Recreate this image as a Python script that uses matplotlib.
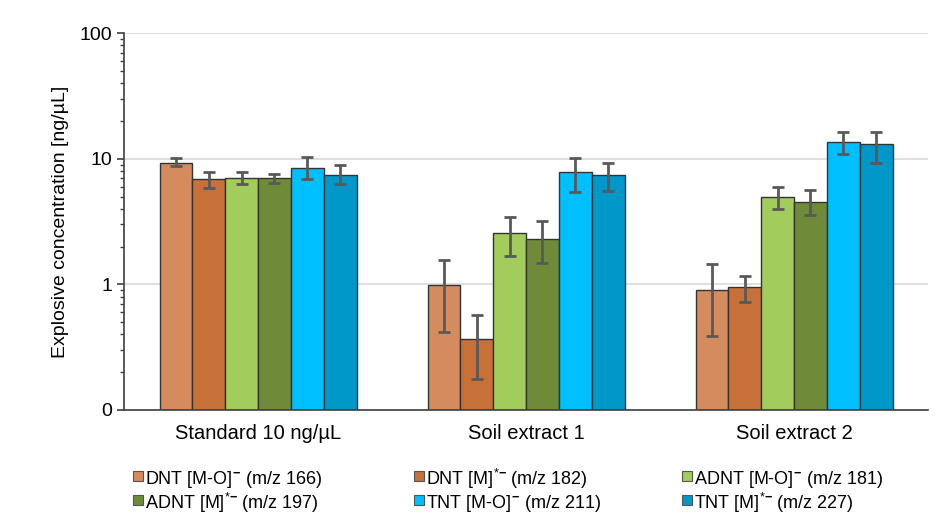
import numpy as np
import matplotlib
matplotlib.use('Agg')
import matplotlib.pyplot as plt
from matplotlib.patches import Rectangle
from matplotlib.ticker import FixedLocator, LogLocator, NullFormatter

plt.rcParams['font.family'] = ['Liberation Sans', 'DejaVu Sans']
plt.rcParams['mathtext.fontset'] = 'custom'
plt.rcParams['mathtext.rm'] = 'Liberation Sans'
plt.rcParams['mathtext.bf'] = 'Liberation Sans:bold'

groups = ['Standard 10 ng/µL', 'Soil extract 1', 'Soil extract 2']
series = ['DNT [M-O]$^{\\mathbf{-}}$ (m/z 166)', 'DNT [M]$^{*\\mathbf{-}}$ (m/z 182)',
          'ADNT [M-O]$^{\\mathbf{-}}$ (m/z 181)', 'ADNT [M]$^{*\\mathbf{-}}$ (m/z 197)',
          'TNT [M-O]$^{\\mathbf{-}}$ (m/z 211)', 'TNT [M]$^{*\\mathbf{-}}$ (m/z 227)']
colors = ['#D48C5E', '#C77038', '#A2CC5B', '#6F8B3A', '#00BFFF', '#0098C8']

# mean values per series, one entry per group
values = [
    [9.3, 0.98, 0.91],
    [6.85, 0.365, 0.95],
    [7.0, 2.55, 4.92],
    [7.0, 2.28, 4.49],
    [8.5, 7.78, 13.7],
    [7.37, 7.37, 13.0],
]
# error bar ends (low, high)
err_low = [
    [8.7, 0.415, 0.39],
    [5.8, 0.176, 0.73],
    [6.35, 1.67, 3.95],
    [6.45, 1.47, 3.54],
    [6.85, 5.4, 11.0],
    [6.25, 5.5, 9.3],
]
err_high = [
    [10.2, 1.55, 1.44],
    [7.9, 0.567, 1.16],
    [7.8, 3.47, 6.0],
    [7.5, 3.17, 5.6],
    [10.4, 10.2, 16.2],
    [8.85, 9.2, 16.2],
]

fig = plt.figure(figsize=(9.47, 5.18), dpi=100)
ax = fig.add_axes([0.131, 0.2085, 0.849, 0.7275])

x = np.arange(len(groups))
w = 0.1225
base = 0.1
for i in range(len(series)):
    v = np.array(values[i])
    pos = x + (i - 2.5) * w
    ax.bar(pos, v - base, bottom=base, width=w, color=colors[i], edgecolor='#333333',
           linewidth=1.0, zorder=2)
    yerr = [v - np.array(err_low[i]), np.array(err_high[i]) - v]
    ax.errorbar(pos, v, yerr=yerr, fmt='none', ecolor='#595959', elinewidth=2,
                capsize=4, capthick=2, zorder=3)

ax.set_yscale('log')
ax.set_ylim(0.1, 100)
ax.set_xlim(-0.5, 2.5)
ax.yaxis.set_major_locator(FixedLocator([0.1, 1, 10, 100]))
ax.set_yticklabels(['0', '1', '10', '100'])
ax.yaxis.set_minor_locator(LogLocator(base=10, subs=np.arange(2, 10)))
ax.yaxis.set_minor_formatter(NullFormatter())
ax.tick_params(axis='y', which='major', labelsize=14, length=5, width=1.2, color='#404040')
ax.tick_params(axis='y', which='minor', length=3, width=1, color='#404040')
ax.set_xticks(x)
ax.set_xticklabels(groups, fontsize=14.5)
ax.tick_params(axis='x', length=0, pad=10)
ax.grid(axis='y', which='major', color='#D9D9D9', linewidth=1.2, zorder=0)
ax.set_axisbelow(True)
for s in ['top', 'right']:
    ax.spines[s].set_visible(False)
ax.spines['left'].set_color('#404040')
ax.spines['bottom'].set_color('#404040')
ax.spines['left'].set_linewidth(1.2)
ax.spines['bottom'].set_linewidth(1.2)
ax.set_ylabel('Explosive concentration [ng/µL]', fontsize=14, labelpad=8)

# legend drawn by hand: three columns, filled row by row
col_x = [0.140, 0.437, 0.720]
row_y = [1 - 476 / 518, 1 - 500 / 518]
sq_w, sq_h = 10 / 947, 10 / 518
for i in range(len(series)):
    cx = col_x[i % 3]
    cy = row_y[i // 3]
    fig.patches.append(Rectangle((cx, cy - sq_h / 2), sq_w, sq_h, transform=fig.transFigure,
                                 facecolor=colors[i], edgecolor='#555555', linewidth=0.8))
    fig.text(cx + sq_w + 2 / 947, cy, series[i], fontsize=13, va='center_baseline', ha='left')

fig.savefig('out.png', dpi=100)
